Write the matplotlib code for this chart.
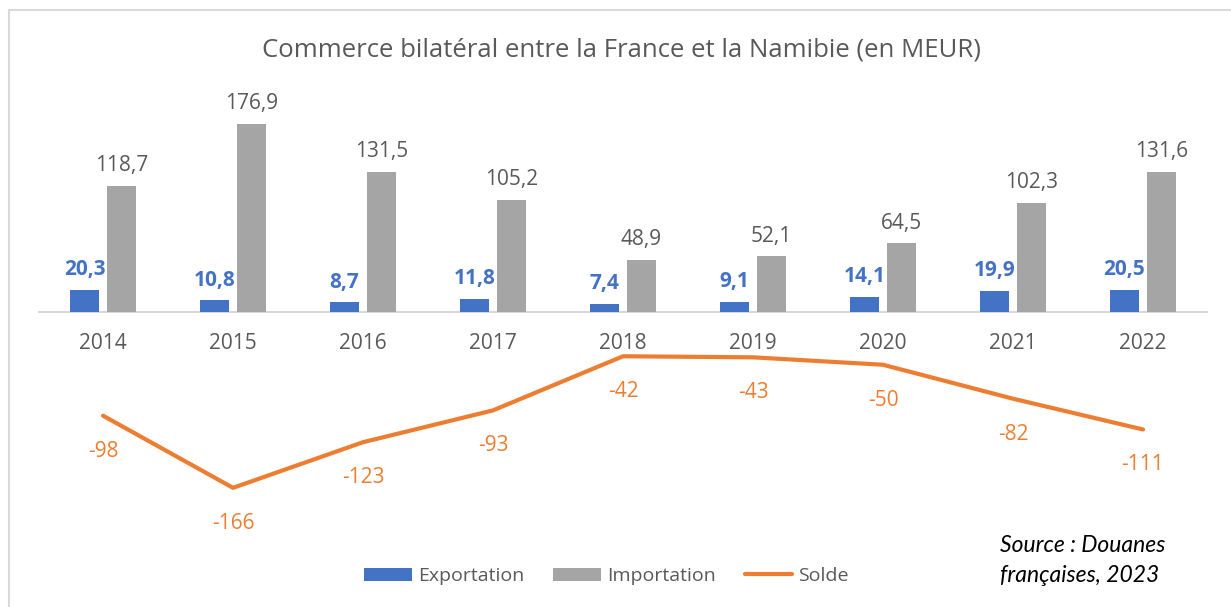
import matplotlib
matplotlib.use("Agg")
import matplotlib.pyplot as plt
from matplotlib.patches import Rectangle
import numpy as np

years = ["2014", "2015", "2016", "2017", "2018", "2019", "2020", "2021", "2022"]
exportation = [20.3, 10.8, 8.7, 11.8, 7.4, 9.1, 14.1, 19.9, 20.5]
importation = [118.7, 176.9, 131.5, 105.2, 48.9, 52.1, 64.5, 102.3, 131.6]
solde = [-98, -166, -123, -93, -42, -43, -50, -82, -111]

BLUE = "#4472C4"
GRAY = "#A5A5A5"
ORANGE = "#ED7D31"
TXT = "#595959"
FONT = ["Open Sans", "DejaVu Sans"]

plt.rcParams['font.family'] = FONT

W, H = 1231, 607
fig = plt.figure(figsize=(W / 100, H / 100), dpi=100)

# outer border
fig.patches.append(Rectangle((9 / W, -0.1), 1.2, 1 - 10 / H + 0.1, transform=fig.transFigure,
                             fill=False, edgecolor="#D9D9D9", linewidth=1.5))

left, right = 38 / W, 1208 / W
bottom, top = 1 - 523.9 / H, 1 - 99.5 / H
ax = fig.add_axes([left, bottom, right - left, top - bottom])
ax.set_xlim(-0.5, len(years) - 0.5)
ax.set_ylim(-200, 200)
ax.axis("off")

x = np.arange(len(years))
bw = 0.223
off = 0.142
b1 = ax.bar(x - off, exportation, bw, color=BLUE, label="Exportation", zorder=2)
b2 = ax.bar(x + off, importation, bw, color=GRAY, label="Importation", zorder=2)
ax.axhline(0, color="#D9D9D9", linewidth=1.5, zorder=1)
line, = ax.plot(x, solde, color=ORANGE, linewidth=3, label="Solde", zorder=3,
                solid_capstyle="round")

def fmt(v):
    return f"{v:.1f}".replace(".", ",")

FS = 15
for i in range(len(years)):
    ax.annotate(fmt(exportation[i]), (x[i] - off, exportation[i]), xytext=(0, 7),
                textcoords="offset points", ha="center", va="bottom",
                fontsize=FS, color=BLUE, fontweight="bold")
    ax.annotate(fmt(importation[i]), (x[i] + off, importation[i]), xytext=(0, 7),
                textcoords="offset points", ha="center", va="bottom",
                fontsize=FS, color=TXT)
    ax.annotate(f"{solde[i]}", (x[i], solde[i]), xytext=(0, -25.5),
                textcoords="offset points", ha="center", va="center",
                fontsize=FS, color=ORANGE)
    ax.annotate(years[i], (x[i], 0), xytext=(0, -23),
                textcoords="offset points", ha="center", va="center",
                fontsize=FS, color=TXT)

fig.text(621 / W, 1 - 50 / H, "Commerce bilatéral entre la France et la Namibie (en MEUR)",
         ha="center", va="center", fontsize=18.5, color=TXT)

LFS = 14
leg = fig.legend(handles=[b1, b2, line], labels=["Exportation", "Importation", "Solde"],
                 loc="center",
                 bbox_to_anchor=(606.5 / W, 1 - 576 / H), ncol=3, frameon=False,
                 fontsize=LFS, handlelength=2.45, handleheight=0.65, handletextpad=0.3,
                 columnspacing=1.5, labelcolor=TXT, borderaxespad=0)

fig.text(1000 / W, 1 - 546 / H, "Source : Douanes", ha="left", va="center",
         fontsize=16.5, style="italic", family=["Lato", "DejaVu Sans"], color="black")
fig.text(1000 / W, 1 - 575 / H, "françaises, 2023", ha="left", va="center",
         fontsize=16.5, style="italic", family=["Lato", "DejaVu Sans"], color="black")

fig.savefig("out.png", dpi=100)
